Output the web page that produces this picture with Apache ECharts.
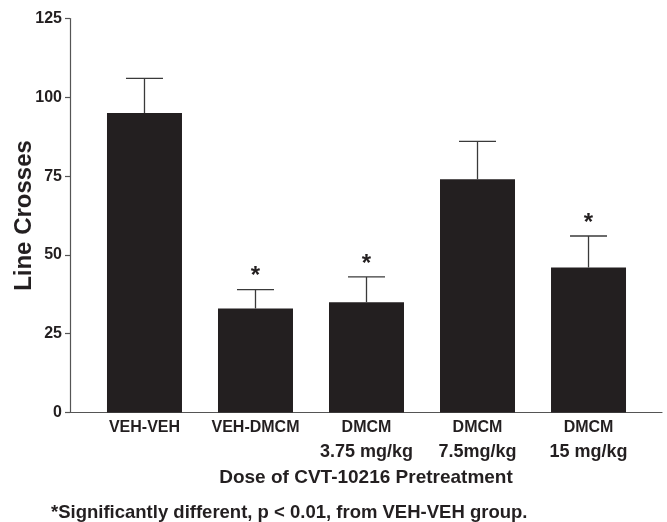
<!DOCTYPE html>
<html>
<head>
<meta charset="utf-8">
<script src="https://cdn.jsdelivr.net/npm/echarts@6/dist/echarts.min.js"></script>
<style>html,body{margin:0;padding:0;background:#fff}#c{width:667px;height:522px}</style>
</head>
<body>
<div id="c"></div>
<script>
var categories = ['VEH-VEH', 'VEH-DMCM', 'DMCM\n3.75 mg/kg', 'DMCM\n7.5mg/kg', 'DMCM\n15 mg/kg'];
var means = [95, 33, 35, 74, 46];
var upperErr = [106, 39, 43, 86, 56];
var significant = [false, true, true, false, true];
var yTicks = [0, 25, 50, 75, 100, 125];

var ink = '#231f20';
var font = '"Liberation Sans", Arial, sans-serif';

var chart = echarts.init(document.getElementById('c'), null, {renderer: 'canvas'});

var barData = means.map(function (v, i) { return [i, v]; });
var errData = means.map(function (v, i) { return [i, v, upperErr[i], significant[i] ? 1 : 0]; });

chart.setOption({
  animation: false,
  backgroundColor: '#ffffff',
  textStyle: {fontFamily: font},
  grid: {left: 70, right: 5, top: 18.5, bottom: 109.5, containLabel: false, outerBoundsMode: 'none'},
  title: {
    text: '*Significantly different, p < 0.01, from VEH-VEH group.',
    left: 51, top: 503.5, padding: 0,
    textStyle: {fontFamily: font, fontWeight: 'bold', fontSize: 18.5, color: ink}
  },
  xAxis: {
    type: 'value',
    min: -0.671, max: 4.662,
    name: 'Dose of CVT-10216 Pretreatment',
    nameLocation: 'middle',
    nameGap: 56,
    nameTextStyle: {fontFamily: font, fontWeight: 'bold', fontSize: 19, color: ink},
    splitLine: {show: false},
    axisTick: {show: false},
    axisLine: {show: true, onZero: false, lineStyle: {color: '#555', width: 1.2}},
    axisLabel: {
      customValues: [0, 1, 2, 3, 4],
      margin: 6,
      verticalAlign: 'top',
      formatter: function (val) {
        var c = categories[Math.round(val)] || '';
        var parts = c.split('\n');
        if (parts.length > 1) return '{a|' + parts[0] + '}\n{b|' + parts[1] + '}';
        return '{a|' + parts[0] + '}';
      },
      rich: {
        a: {fontFamily: font, fontWeight: 'bold', fontSize: 16, color: ink, lineHeight: 19},
        b: {fontFamily: font, fontWeight: 'bold', fontSize: 18, color: ink, lineHeight: 30}
      }
    }
  },
  yAxis: {
    type: 'value',
    min: 0, max: 125, interval: 25,
    name: 'Line Crosses',
    nameLocation: 'middle',
    nameGap: 34,
    nameMoveOverlap: false,
    nameTextStyle: {fontFamily: font, fontWeight: 'bold', fontSize: 24, color: ink},
    splitLine: {show: false},
    axisLine: {show: true, onZero: false, lineStyle: {color: '#555', width: 1.2}},
    axisTick: {show: true, length: 5, lineStyle: {color: '#555', width: 1.2}},
    axisLabel: {
      margin: 8,
      fontFamily: font, fontWeight: 'bold', fontSize: 16, color: ink,
      formatter: function (v) { return yTicks.indexOf(v) >= 0 ? String(v) : ''; }
    }
  },
  series: [
    {
      type: 'bar',
      data: barData,
      barWidth: 75,
      itemStyle: {color: ink},
      z: 2
    },
    {
      type: 'custom',
      data: errData,
      z: 3,
      renderItem: function (params, api) {
        var x = api.value(0);
        var top = api.coord([x, api.value(2)]);
        var base = api.coord([x, api.value(1)]);
        var half = 18.5;
        var style = {stroke: '#3a3a3a', lineWidth: 1.3};
        var children = [
          {type: 'line', shape: {x1: top[0], y1: top[1], x2: base[0], y2: base[1]}, style: style},
          {type: 'line', shape: {x1: top[0] - half, y1: top[1], x2: top[0] + half, y2: top[1]}, style: style}
        ];
        if (api.value(3)) {
          children.push({
            type: 'text',
            style: {
              text: '*', x: top[0], y: top[1] - 1,
              align: 'center', verticalAlign: 'bottom',
              font: 'bold 24px ' + font, fill: ink
            }
          });
        }
        return {type: 'group', children: children};
      }
    }
  ]
});
</script>
</body>
</html>
